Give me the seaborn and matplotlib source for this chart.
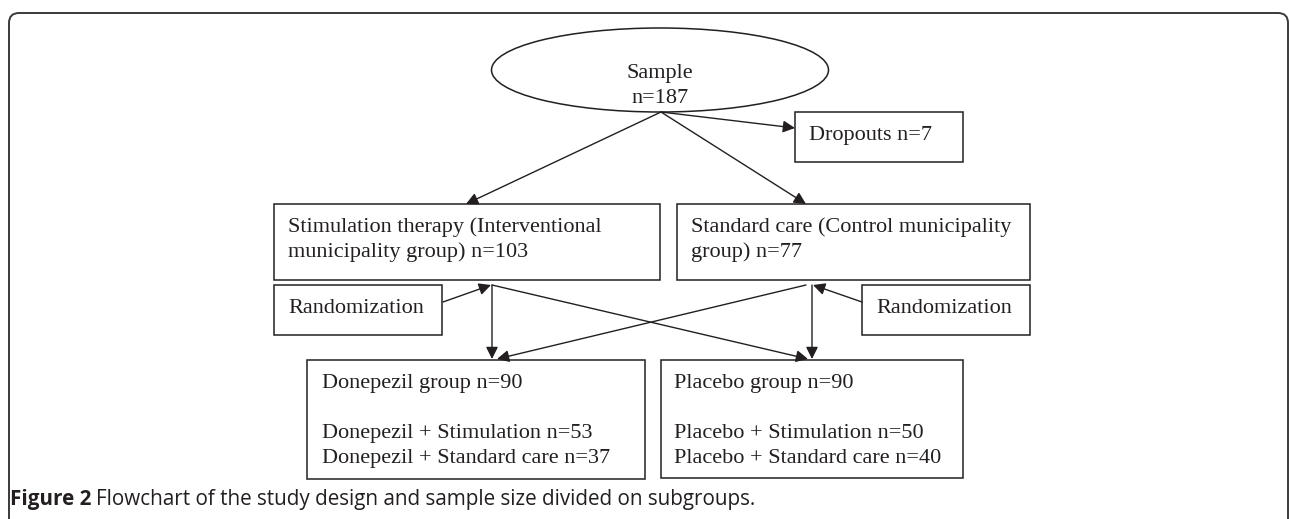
import matplotlib
matplotlib.use("Agg")
import matplotlib.pyplot as plt
import seaborn as sns
from matplotlib.patches import Ellipse, Rectangle, FancyBboxPatch

sns.set_theme(style="white")
plt.rcParams['font.family'] = ['Liberation Serif', 'DejaVu Serif']

# study numbers
sample_n = 187
dropouts_n = 7
arm_labels = ["Stimulation therapy (Interventional\nmunicipality group)",
              "Standard care (Control municipality\ngroup)"]
arm_n = [103, 77]
drug_groups = ["Donepezil", "Placebo"]
drug_n = [90, 90]
sub_stim_n = [53, 50]
sub_std_n = [37, 40]
caption_bold = "Figure 2"
caption_rest = "Flowchart of the study design and sample size divided on subgroups."

INK = "#231f20"
FS = 16
LINE = 25  # px between baselines

fig = plt.figure(figsize=(12.9, 5.19), dpi=100)
ax = fig.add_axes([0, 0, 1, 1])
ax.set_xlim(0, 1290)
ax.set_ylim(519, 0)
ax.axis("off")

# outer frame (open at the bottom)
frame = FancyBboxPatch((9, 13), 1279, 540, boxstyle="round,pad=0,rounding_size=10",
                       fill=False, ec="#3a3a3a", lw=1.4)
ax.add_patch(frame)

def box(x0, y0, x1, y1):
    ax.add_patch(Rectangle((x0, y0), x1 - x0, y1 - y0, fill=False, ec=INK, lw=1.1))

def label(x, y, s, ha="left"):
    # y is the baseline of the first line
    for i, line in enumerate(s.split("\n")):
        ax.text(x, y + i * LINE, line, color=INK, fontsize=FS, ha=ha, va="baseline")

def arrow(p0, p1):
    ax.annotate("", xy=p1, xytext=p0,
                arrowprops=dict(arrowstyle="-|>", color=INK, lw=1.0,
                                mutation_scale=18, shrinkA=0, shrinkB=0))

# sample ellipse
ax.add_patch(Ellipse((660, 70), 337, 84, fill=False, ec=INK, lw=1.1))
label(660, 78, f"Sample\nn={sample_n}", ha="center")

# dropouts
box(795, 112, 963, 162)
label(809, 140, f"Dropouts n={dropouts_n}")

# arms
box(274, 204, 660, 280)
label(288, 232, f"{arm_labels[0]} n={arm_n[0]}")
box(677, 204, 1030, 280)
label(691, 232, f"{arm_labels[1]} n={arm_n[1]}")

# randomization boxes
box(274, 285, 442, 335)
label(288, 313, "Randomization")
box(862, 285, 1030, 335)
label(876, 313, "Randomization")

# drug groups
box(307, 360, 645, 479)
label(322, 388, f"{drug_groups[0]} group n={drug_n[0]}\n\n"
                f"{drug_groups[0]} + Stimulation n={sub_stim_n[0]}\n"
                f"{drug_groups[0]} + Standard care n={sub_std_n[0]}")
box(661, 360, 963, 478)
label(674, 388, f"{drug_groups[1]} group n={drug_n[1]}\n\n"
                f"{drug_groups[1]} + Stimulation n={sub_stim_n[1]}\n"
                f"{drug_groups[1]} + Standard care n={sub_std_n[1]}")

# arrows
arrow((661, 112), (466, 204))
arrow((661, 112), (806, 204))
arrow((661, 112), (795, 128))
arrow((443, 302), (491, 285))
arrow((492, 285), (492, 359))
arrow((492, 285), (808, 359))
arrow((806, 285), (497, 359))
arrow((812, 285), (812, 359))
arrow((862, 302), (813, 285))

# caption
t = ax.text(10, 499, caption_bold, fontsize=14.9, fontweight="bold", color="#231f20",
            family=["Open Sans", "DejaVu Sans"], va="center")
fig.canvas.draw()
bb = t.get_window_extent()
ax.text(10 + bb.width + 5, 499, caption_rest, fontsize=14.9, color="#231f20",
        family=["Open Sans", "DejaVu Sans"], va="center")

fig.savefig("out.png", dpi=100)
